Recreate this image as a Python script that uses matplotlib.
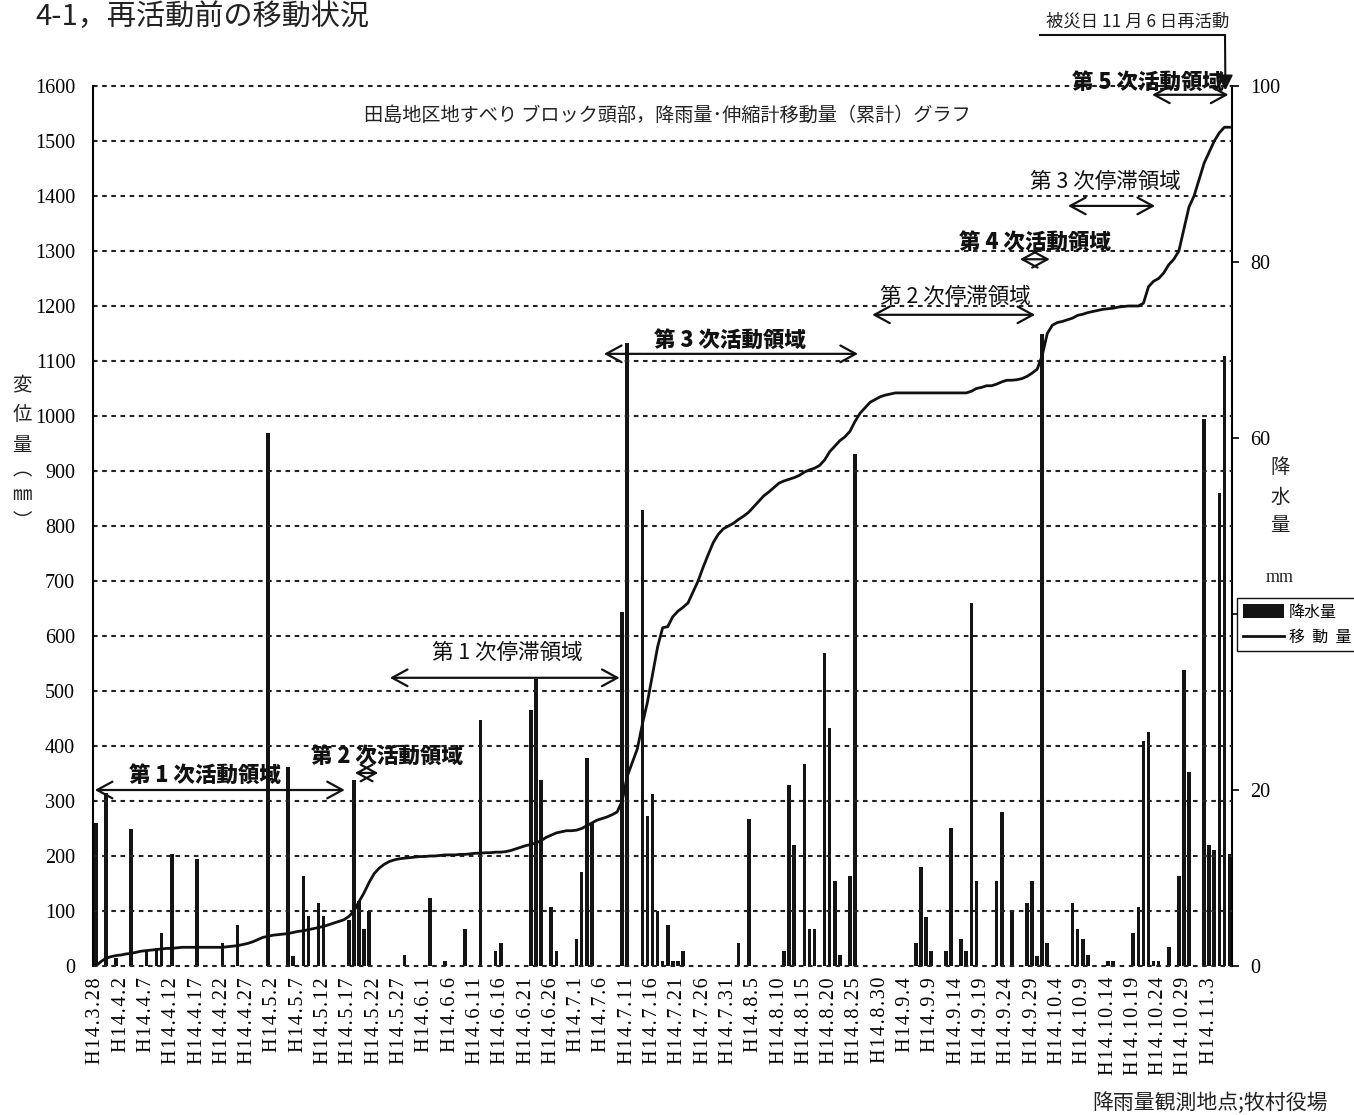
import matplotlib
matplotlib.use("Agg")
import matplotlib.pyplot as plt
from matplotlib.patches import Patch
from matplotlib.lines import Line2D
import numpy as np
import pandas as pd

CJK = ['Noto Sans CJK JP', 'DejaVu Sans']
SERIF = ['Liberation Serif', 'DejaVu Serif']
plt.rcParams['font.family'] = CJK

# ---- data -------------------------------------------------------------
start_date = "2002-03-28"
n_days = 225

# daily rainfall (mm), Makimura village office
rain_mm = [
    16.3, 0, 19.7, 0, 0.9, 0, 0, 15.6, 0, 0, 1.7, 0, 2.0, 3.7, 0,
    12.7, 0, 0, 0, 0, 12.2, 0, 0, 0, 0, 2.6, 0, 0, 4.7, 0,
    0, 0, 0, 0, 60.6, 0, 0, 0, 22.6, 1.1, 0, 10.2, 5.7, 0, 7.2,
    5.7, 0, 0, 0, 0, 5.2, 21.1, 7.4, 4.2, 6.3, 0, 0, 0, 0, 0,
    0, 1.2, 0, 0, 0, 0, 7.7, 0, 0, 0.6, 0, 0, 0, 4.2, 0,
    0, 28.0, 0, 0, 1.7, 2.6, 0, 0, 0, 0, 0, 29.1, 32.6, 21.1, 0,
    6.7, 1.7, 0, 0, 0, 3.1, 10.7, 23.6, 16.2, 0, 0, 0, 0, 0, 40.2,
    70.8, 0, 0, 51.8, 17.0, 19.6, 6.2, 0.6, 4.7, 0.6, 0.6, 1.7, 0, 0, 0,
    0, 0, 0, 0, 0, 0, 0, 2.6, 0, 16.7, 0, 0, 0, 0, 0,
    0, 1.7, 20.6, 13.7, 0, 23.0, 4.2, 4.2, 0, 35.6, 27.1, 9.7, 1.2, 0, 10.2,
    58.2, 0, 0, 0, 0, 0, 0, 0, 0, 0, 0, 0, 2.6, 11.2, 5.6,
    1.7, 0, 0, 1.7, 15.7, 0, 3.1, 1.7, 41.2, 9.7, 0, 0, 0, 9.7, 17.5,
    0, 6.2, 0, 0, 7.2, 9.7, 1.1, 71.8, 2.6, 0, 0, 0, 0, 7.2, 4.2,
    3.1, 1.2, 0, 0, 0, 0.6, 0.6, 0, 0, 0, 3.7, 6.7, 25.6, 26.6, 0.6,
    0.6, 0, 2.2, 0, 10.2, 33.6, 22.1, 0, 0, 62.2, 13.7, 13.2, 53.8, 69.3, 12.7,
]

# cumulative extensometer displacement (mm)
displacement_mm = [
    0, 8, 14, 17, 19, 20, 22, 23, 25, 27, 28, 29, 30, 31, 32,
    32, 33, 34, 34, 34, 34, 34, 34, 34, 34, 34, 35, 36, 37, 39,
    41, 44, 48, 52, 54, 56, 57, 58, 59, 61, 63, 64, 66, 68, 70,
    72, 75, 78, 81, 84, 90, 100, 117, 133, 152, 168, 178, 185, 190, 193,
    195, 196, 197, 198, 199, 199, 200, 200, 201, 202, 202, 202, 203, 203, 204,
    205, 205, 206, 206, 207, 207, 208, 210, 213, 216, 219, 221, 224, 228, 234,
    238, 242, 244, 246, 246, 247, 250, 255, 260, 265, 268, 271, 275, 280, 300,
    345, 370, 395, 440, 480, 530, 580, 615, 617, 635, 645, 652, 660, 680, 700,
    725, 748, 770, 785, 795, 800, 805, 812, 818, 825, 835, 845, 855, 862, 870,
    878, 882, 885, 888, 892, 898, 902, 905, 910, 920, 935, 945, 955, 962, 972,
    990, 1005, 1015, 1025, 1030, 1035, 1038, 1040, 1042, 1042, 1042, 1042, 1042, 1042, 1042,
    1042, 1042, 1042, 1042, 1042, 1042, 1042, 1042, 1045, 1050, 1052, 1055, 1055, 1058, 1062,
    1065, 1065, 1066, 1068, 1072, 1078, 1085, 1110, 1150, 1165, 1170, 1172, 1175, 1178, 1183,
    1185, 1188, 1190, 1192, 1194, 1195, 1196, 1198, 1199, 1200, 1200, 1200, 1205, 1235, 1245,
    1250, 1260, 1275, 1285, 1300, 1340, 1380, 1400, 1430, 1460, 1480, 1500, 1515, 1525, 1525,
]

disp_ticks = list(range(0, 1601, 100))
rain_ticks = [0, 20, 40, 60, 80, 100]

dates = pd.date_range(start_date, periods=n_days, freq="D")
tick_idx = list(range(0, n_days, 5))
tick_labels = [f"H14.{dates[i].month}.{dates[i].day}" for i in tick_idx]

# phase annotations: (label, bold, x_from, x_to, arrow_y, text_x, text_y)
phases = [
    ("第 1 次活動領域", True, -0.2, 49.2, 320, 21.5, 347),
    ("第 2 次活動領域", True, 51.2, 55.8, 351, 57.5, 381),
    ("第 1 次停滞領域", False, 58.1, 103.5, 524, 81.3, 569),
    ("第 3 次活動領域", True, 100.4, 150.6, 1113, 125.3, 1138),
    ("第 2 次停滞領域", False, 153.4, 185.6, 1184, 169.8, 1216),
    ("第 4 次活動領域", True, 182.6, 188.5, 1285, 185.6, 1315),
    ("第 3 次停滞領域", False, 192.1, 209.3, 1382, 199.4, 1425),
    ("第 5 次活動領域", True, 208.7, 223.8, 1584, 207.9, 1607),
]

# ---- figure -----------------------------------------------------------
W, H = 1354, 1115
fig = plt.figure(figsize=(W / 100, H / 100), dpi=100)


def fpx(x, y):
    """figure-pixel (top-left origin) -> figure fraction"""
    return x / W, 1 - y / H


rect = [93.3 / W, 1 - 966 / H, (1232 - 93.3) / W, (966 - 86) / H]
x = np.arange(n_days)

# rainfall bars (right scale)
ax_r = fig.add_axes(rect)
ax_r.bar(x, rain_mm, width=0.72, color='#141414', linewidth=0, zorder=2)
ax_r.set_xlim(-0.5, n_days - 0.5)
ax_r.set_ylim(0, 100)
ax_r.yaxis.tick_right()
ax_r.set_yticks(rain_ticks)
ax_r.set_yticklabels([str(v) for v in rain_ticks], fontfamily=SERIF, fontsize=14.5)
ax_r.tick_params(axis='y', direction='out', length=5, width=1.2, pad=8)
ax_r.set_xticks(tick_idx)
ax_r.set_xticklabels(["\u200a".join(s) for s in tick_labels], rotation=90,
                     fontfamily=SERIF, fontsize=14.5)
ax_r.tick_params(axis='x', length=0, pad=8)
for s in ['top', 'left', 'bottom']:
    ax_r.spines[s].set_visible(False)
ax_r.spines['right'].set_linewidth(1.5)

# displacement line (left scale)
ax_d = fig.add_axes(rect)
ax_d.patch.set_visible(False)
ax_d.set_xlim(-0.5, n_days - 0.5)
ax_d.set_ylim(0, 1600)
for v in disp_ticks:
    ax_d.axhline(v, color='#222222', lw=1.5, ls=(0, (2.2, 2.2)), clip_on=False, zorder=1)
ax_d.plot(x, displacement_mm, color='#111111', lw=2.0, zorder=3)
ax_d.set_yticks(disp_ticks)
ax_d.set_yticklabels([str(v) for v in disp_ticks], fontfamily=SERIF, fontsize=14.5)
ax_d.tick_params(axis='y', direction='out', length=0, pad=13)
ax_d.set_xticks([])
for s in ['top', 'right', 'bottom']:
    ax_d.spines[s].set_visible(False)
ax_d.spines['left'].set_linewidth(1.5)

# phase arrows and labels
for label, bold, x0, x1, ya, tx, ty in phases:
    ax_d.annotate('', xy=(x1, ya), xytext=(x0, ya), annotation_clip=False,
                  arrowprops=dict(arrowstyle='<->,head_length=0.55,head_width=0.3',
                                  lw=1.6, color='#111111', shrinkA=0, shrinkB=0,
                                  mutation_scale=20))
    ax_d.text(tx, ty, label, ha='center', va='center', fontsize=15.5,
              fontweight='heavy' if bold else 'normal', color='#111111', zorder=5)

# chart heading inside the plot
ax_d.text(0.504, 0.967, '田島地区地すべり ブロック頭部，降雨量･伸縮計移動量（累計）グラフ',
          transform=ax_d.transAxes, ha='center', va='center', fontsize=13.8,
          color='#222222')

# legend
handles = [Patch(facecolor='#141414', edgecolor='none'),
           Line2D([], [], color='#111111', lw=2.0)]
leg = fig.legend(handles, ['降水量', '移  動  量'], loc='upper left',
                 bbox_to_anchor=fpx(1237, 598), fontsize=11.5, frameon=True,
                 framealpha=1.0, fancybox=False, borderpad=0.35, handlelength=2.6,
                 handleheight=0.9, handletextpad=0.3, labelspacing=0.5,
                 borderaxespad=0)
leg.get_frame().set_edgecolor('#111111')
leg.get_frame().set_linewidth(1.0)
leg.set_zorder(10)

# page title
fig.text(*fpx(35, 17), '4-1，再活動前の移動状況', ha='left', va='center',
         fontsize=21, color='#222222')

# axis titles, written vertically
for ch, yy in zip(['変', '位', '量', '︵', '㎜', '︶'], [385, 415, 445, 470, 495, 522]):
    fig.text(*fpx(22, yy), ch, ha='center', va='center', fontsize=14, color='#222222')
for ch, yy in zip(['降', '水', '量'], [468, 497, 526]):
    fig.text(*fpx(1280, yy), ch, ha='center', va='center', fontsize=14, color='#222222')
fig.text(*fpx(1280, 578), 'mm', ha='center', va='center', fontsize=13,
         fontfamily=SERIF, color='#222222')

# disaster-day note with leader line
fig.text(*fpx(1138, 22), '被災日 11 月 6 日再活動', ha='center', va='center',
         fontsize=12.5, color='#222222')
fig.add_artist(Line2D([1040 / W, 1225 / W], [1 - 35 / H, 1 - 35 / H],
                      transform=fig.transFigure, color='#111111', lw=1.5))
ax_d.annotate('', xy=(223.2, 1592), xytext=fpx(1225, 35),
              textcoords='figure fraction', annotation_clip=False,
              arrowprops=dict(arrowstyle='-|>,head_length=0.5,head_width=0.25',
                              lw=1.5, color='#111111', shrinkA=0, shrinkB=0,
                              mutation_scale=18))

# rain gauge note
fig.text(*fpx(1210, 1103), '降雨量観測地点;牧村役場', ha='center', va='center',
         fontsize=15, color='#222222')

fig.savefig('out.png', dpi=100)
